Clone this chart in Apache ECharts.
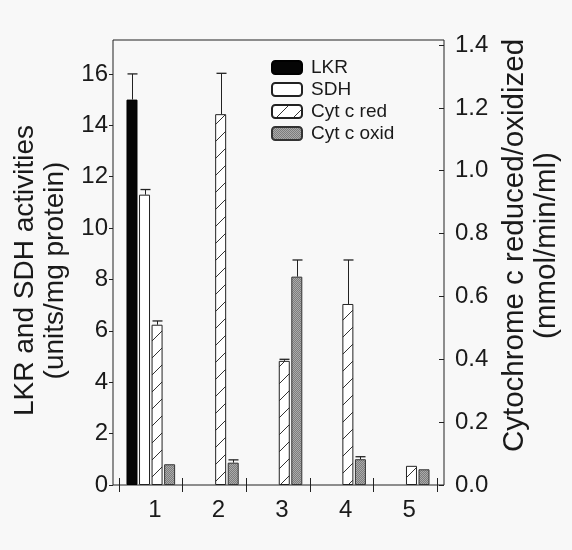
<!DOCTYPE html>
<html><head><meta charset="utf-8">
<script src="https://cdn.jsdelivr.net/npm/echarts@6/dist/echarts.min.js"></script>
<style>html,body{margin:0;padding:0;background:#f8f8f8}#c{width:572px;height:550px}</style>
</head><body><div id="c"></div>
<script>
// ---- data ----
const categories = ['1', '2', '3', '4', '5'];
const lkr        = [15.0, null, null, null, null];
const lkrErr     = [16.0, null, null, null, null];
const sdh        = [11.3, null, null, null, null];
const sdhErr     = [11.5, null, null, null, null];
const cytRed     = [0.51, 1.18, 0.395, 0.576, 0.061];
const cytRedErr  = [0.522, 1.31, 0.40, 0.716, null];
const cytOxid    = [0.066, 0.071, 0.663, 0.082, 0.05];
const cytOxidErr = [null, 0.08, 0.716, 0.09, null];
const leftTicks  = [0, 2, 4, 6, 8, 10, 12, 14, 16];
const rightTicks = [0, 0.2, 0.4, 0.6, 0.8, 1.0, 1.2, 1.4];
const leftMax = 17.32, rightMax = 1.416;

// ---- fills ----
function hatchCanvas() {
  const c = document.createElement('canvas'); c.width = 17; c.height = 17;
  const g = c.getContext('2d');
  g.fillStyle = '#ffffff'; g.fillRect(0, 0, 17, 17);
  g.strokeStyle = '#333'; g.lineWidth = 1;
  g.beginPath(); g.moveTo(-1, 18); g.lineTo(18, -1); g.stroke();
  return c;
}
function stippleCanvas() {
  const c = document.createElement('canvas'); c.width = 2; c.height = 2;
  const g = c.getContext('2d');
  g.fillStyle = '#7c7c7c'; g.fillRect(0, 0, 2, 2);
  g.fillStyle = '#ababab'; g.fillRect(0, 0, 1, 1); g.fillRect(1, 1, 1, 1);
  return c;
}
const FONT = 'Liberation Sans';
const INK = '#1a1a1a';
const BAR_W = 11, BAR_STEP = 12.54;

function errData(vals, errs, slot) {
  const out = [];
  vals.forEach((v, i) => { if (errs[i] != null && v != null) out.push([i, v, errs[i], slot]); });
  return out;
}
function errRender(params, api) {
  const x = api.value(0), v = api.value(1), e = api.value(2), slot = api.value(3);
  const p0 = api.coord([x, v]), p1 = api.coord([x, e]);
  const cx = Math.round(p0[0] + (slot - 1.5) * BAR_STEP) + 0.5;
  return { type: 'group', children: [
    { type: 'line', shape: { x1: cx, y1: p0[1], x2: cx, y2: p1[1] }, style: { stroke: '#222', lineWidth: 1 } },
    { type: 'line', shape: { x1: cx - 5, y1: p1[1], x2: cx + 5, y2: p1[1] }, style: { stroke: '#222', lineWidth: 1.3 } }
  ]};
}

const chart = echarts.init(document.getElementById('c'), null, { renderer: 'canvas' });
chart.setOption({
  backgroundColor: '#f8f8f8',
  animation: false,
  textStyle: { fontFamily: FONT, color: INK },
  grid: [
    { left: 113, right: 128, top: 40, bottom: 65, show: true, borderColor: '#222', borderWidth: 1, backgroundColor: 'transparent' },
    { left: 119, right: 135, top: 40, bottom: 65 }
  ],
  legend: {
    data: ['LKR', 'SDH', 'Cyt c red', 'Cyt c oxid'],
    orient: 'vertical', left: 271, top: 58, padding: 0,
    itemWidth: 30, itemHeight: 13, itemGap: 3, selectedMode: false,
    textStyle: { fontFamily: FONT, fontSize: 19, color: INK, padding: [0, 0, 0, 4] }
  },
  xAxis: [
    { gridIndex: 0, type: 'value', show: false, min: 0, max: 1 },
    { gridIndex: 1, type: 'category', data: categories, position: 'bottom',
      axisLine: { show: false },
      axisTick: { show: true, inside: true, length: 7, lineStyle: { color: '#222' } },
      axisLabel: { fontFamily: FONT, fontSize: 24, color: INK, margin: 13, padding: [0, 0, 0, 8] } },
    { gridIndex: 1, type: 'category', data: categories, position: 'bottom',
      axisLine: { show: false },
      axisTick: { show: true, inside: false, length: 7, lineStyle: { color: '#222' } },
      axisLabel: { show: false } }
  ],
  yAxis: [
    { gridIndex: 0, type: 'value', position: 'left', min: 0, max: leftMax,
      axisLine: { show: false }, splitLine: { show: false },
      axisTick: { show: true, inside: false, length: 4, customValues: leftTicks, lineStyle: { color: '#222' } },
      axisLabel: { customValues: leftTicks, fontFamily: FONT, fontSize: 24, color: INK, margin: 5 },
      name: 'LKR and SDH activities\n(units/mg protein)',
      nameLocation: 'middle', nameRotate: 90, nameGap: 42,
      nameTextStyle: { fontFamily: FONT, fontSize: 28, lineHeight: 30, color: INK, align: 'center', padding: [0, 16, 0, 0] } },
    { gridIndex: 0, type: 'value', position: 'right', min: 0, max: rightMax,
      axisLine: { show: false }, splitLine: { show: false },
      axisTick: { show: true, inside: true, length: 5, customValues: rightTicks, lineStyle: { color: '#222' } },
      axisLabel: { customValues: rightTicks, fontFamily: FONT, fontSize: 24, color: INK, margin: 11,
        formatter: v => v.toFixed(1) },
      name: 'Cytochrome c reduced/oxidized\n(mmol/min/ml)',
      nameLocation: 'middle', nameRotate: 90, nameGap: 50,
      nameTextStyle: { fontFamily: FONT, fontSize: 29.5, lineHeight: 32, color: INK, align: 'center', padding: [0, 0, 0, 34] } },
    { gridIndex: 1, type: 'value', min: 0, max: leftMax, show: false, splitLine: { show: false } },
    { gridIndex: 1, type: 'value', min: 0, max: rightMax, show: false, splitLine: { show: false } }
  ],
  series: [
    { name: 'LKR', type: 'bar', xAxisIndex: 1, yAxisIndex: 2, data: lkr, barWidth: BAR_W, barGap: '14%',
      itemStyle: { color: '#050505', borderColor: '#000', borderWidth: 1 } },
    { name: 'SDH', type: 'bar', xAxisIndex: 1, yAxisIndex: 2, data: sdh, barWidth: BAR_W, barGap: '14%',
      itemStyle: { color: '#ffffff', borderColor: '#222', borderWidth: 1 } },
    { name: 'Cyt c red', type: 'bar', xAxisIndex: 1, yAxisIndex: 3, data: cytRed, barWidth: BAR_W, barGap: '14%',
      itemStyle: { color: { image: hatchCanvas(), repeat: 'repeat' }, borderColor: '#222', borderWidth: 1 } },
    { name: 'Cyt c oxid', type: 'bar', xAxisIndex: 1, yAxisIndex: 3, data: cytOxid, barWidth: BAR_W, barGap: '14%',
      itemStyle: { color: { image: stippleCanvas(), repeat: 'repeat' }, borderColor: '#333', borderWidth: 1 } },
    { name: 'errLeft', type: 'custom', xAxisIndex: 1, yAxisIndex: 2, z: 5, renderItem: errRender,
      encode: { x: 0, y: [1, 2] },
      data: errData(lkr, lkrErr, 0).concat(errData(sdh, sdhErr, 1)) },
    { name: 'errRight', type: 'custom', xAxisIndex: 1, yAxisIndex: 3, z: 5, renderItem: errRender,
      encode: { x: 0, y: [1, 2] },
      data: errData(cytRed, cytRedErr, 2).concat(errData(cytOxid, cytOxidErr, 3)) }
  ]
});
</script>
</body></html>
